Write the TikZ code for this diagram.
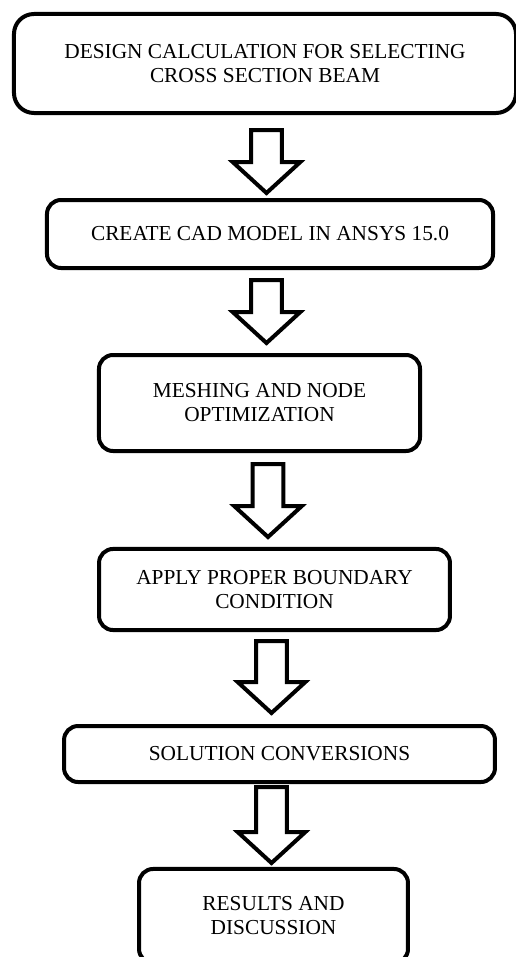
\documentclass[tikz,border=0pt]{standalone}
\usepackage{fontspec}
\setmainfont{Liberation Serif}
\usetikzlibrary{calc}

% hollow block arrow from #1 (top of shaft) to #2 (tip)
\newcommand{\flowarrow}[2]{%
    \draw[blockarrow] let \p1=(#1), \p2=(#2) in
        (\x1-8.6pt,\y1) -- (\x1+8.6pt,\y1) -- (\x1+8.6pt,\y2+17.4pt)
        -- (\x1+19pt,\y2+17.4pt) -- (\x2,\y2) -- (\x1-19pt,\y2+17.4pt)
        -- (\x1-8.6pt,\y2+17.4pt) -- cycle;}

\begin{document}
\begin{tikzpicture}[x=0.5625pt, y=-0.5625pt,
    box/.style={rectangle, draw, line width=2.25pt, rounded corners=7.9pt, fill=white, align=center, inner sep=0pt, font=\fontsize{12}{13.5}\selectfont},
    bigbox/.style={box, rounded corners=11.25pt},
    blockarrow/.style={draw, line width=2.25pt, fill=white, line join=miter}
]
    \useasboundingbox (0,0) rectangle (515,957);

    \node[bigbox, minimum width=282.4pt, minimum height=55.7pt] (design) at (265, 63.5)
        {DESIGN CALCULATION FOR SELECTING\\CROSS SECTION BEAM};
    \node[box, minimum width=250.9pt, minimum height=38.25pt] (cad) at (270, 234)
        {CREATE CAD MODEL IN ANSYS 15.0};
    \node[box, minimum width=180.6pt, minimum height=54pt] (mesh) at (259.5, 403)
        {MESHING AND NODE\\OPTIMIZATION};
    \node[box, minimum width=197.4pt, minimum height=45.6pt] (bound) at (274.5, 589.5)
        {APPLY PROPER BOUNDARY\\CONDITION};
    \node[box, minimum width=242.4pt, minimum height=31.5pt] (solution) at (279.5, 754)
        {SOLUTION CONVERSIONS};
    \node[box, minimum width=151.3pt, minimum height=52.9pt] (results) at (273.5, 916)
        {RESULTS AND\\DISCUSSION};

    \coordinate (a1s) at (266.5, 130);  \coordinate (a1e) at (266.5, 193);
    \coordinate (a2s) at (266.5, 280);  \coordinate (a2e) at (266.5, 343);
    \coordinate (a3s) at (268, 464);    \coordinate (a3e) at (268, 537);
    \coordinate (a4s) at (271.5, 641);  \coordinate (a4e) at (271.5, 713);
    \coordinate (a5s) at (271.5, 787);  \coordinate (a5e) at (271.5, 863);

    \flowarrow{a1s}{a1e}
    \flowarrow{a2s}{a2e}
    \flowarrow{a3s}{a3e}
    \flowarrow{a4s}{a4e}
    \flowarrow{a5s}{a5e}
\end{tikzpicture}
\end{document}
